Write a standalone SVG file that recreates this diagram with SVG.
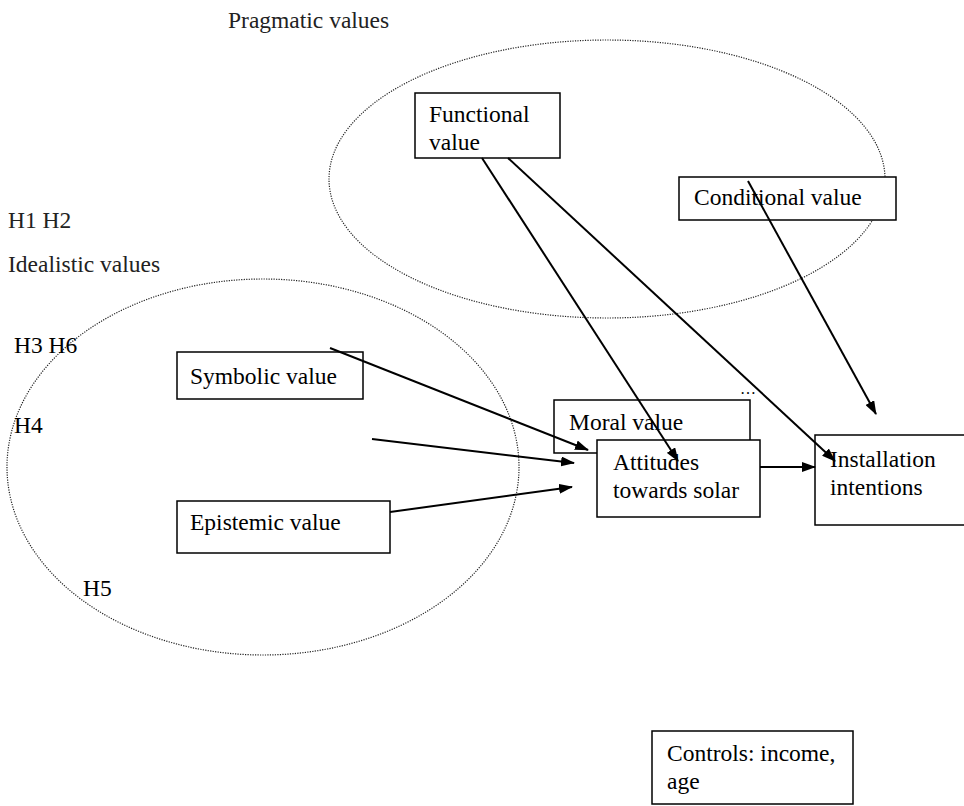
<svg xmlns="http://www.w3.org/2000/svg" width="964" height="806" viewBox="0 0 964 806">
<style>
text{font-family:'Liberation Serif','DejaVu Serif','Times New Roman',serif;font-size:23.5px;fill:#000}
.lbl{fill:#222}
.box{fill:#fff;stroke:#000;stroke-width:1.5}
.grp{fill:none;stroke:#222;stroke-width:1.2;stroke-dasharray:1.2 1.3}
.con{stroke:#000;stroke-width:2;fill:none;marker-end:url(#ah)}
</style>
<defs>
<marker id="ah" viewBox="0 0 14 10" refX="13" refY="5" markerWidth="14" markerHeight="10" markerUnits="userSpaceOnUse" orient="auto">
<path d="M0,0 L14,5 L0,10 z" fill="#000"/>
</marker>
</defs>
<rect width="964" height="806" fill="#fff"/>
<g id="groups">
<ellipse class="grp" cx="607" cy="179" rx="278" ry="139"/>
<ellipse class="grp" cx="263" cy="467" rx="256" ry="188"/>
</g>
<g id="labels">
<text class="lbl" x="228" y="28">Pragmatic values</text>
<text class="lbl" x="8" y="228">H1 H2</text>
<text class="lbl" x="8" y="272">Idealistic values</text>
<text x="14" y="353">H3 H6</text>
<text x="14" y="433">H4</text>
<text x="83" y="596">H5</text>
<text x="740" y="394" style="font-size:16px">…</text>
</g>
<g id="functional">
<rect class="box" x="415" y="93" width="145" height="65"/>
<text x="429" y="122">Functional</text>
<text x="429" y="150">value</text>
</g>
<g id="conditional">
<rect class="box" x="679" y="177" width="217" height="43"/>
<text x="694" y="205">Conditional value</text>
</g>
<g id="symbolic">
<rect class="box" x="177" y="352" width="186" height="47"/>
<text x="190" y="384">Symbolic value</text>
</g>
<g id="epistemic">
<rect class="box" x="177" y="501" width="213" height="52"/>
<text x="190" y="530">Epistemic value</text>
</g>
<g id="moral">
<rect class="box" x="554" y="400" width="196" height="53"/>
<text x="569" y="430">Moral value</text>
</g>
<g id="attitudes">
<rect class="box" x="597" y="440" width="163" height="77"/>
<text x="613" y="470">Attitudes</text>
<text x="613" y="498">towards solar</text>
</g>
<g id="installation">
<rect class="box" x="815" y="435" width="152" height="90"/>
<text x="830" y="467">Installation</text>
<text x="830" y="495">intentions</text>
</g>
<g id="controls">
<rect class="box" x="652" y="731" width="201" height="73"/>
<text x="667" y="761">Controls: income,</text>
<text x="667" y="789">age</text>
</g>
<g id="connectors">
<line class="con" x1="482" y1="158" x2="678" y2="461"/>
<line class="con" x1="508" y1="158" x2="835" y2="461"/>
<line class="con" x1="748" y1="181" x2="876" y2="414"/>
<line class="con" x1="330" y1="348" x2="588" y2="450"/>
<line class="con" x1="372" y1="439" x2="574" y2="463"/>
<line class="con" x1="390" y1="512" x2="572" y2="487"/>
<line class="con" x1="760" y1="467" x2="815" y2="467"/>
</g>
</svg>
